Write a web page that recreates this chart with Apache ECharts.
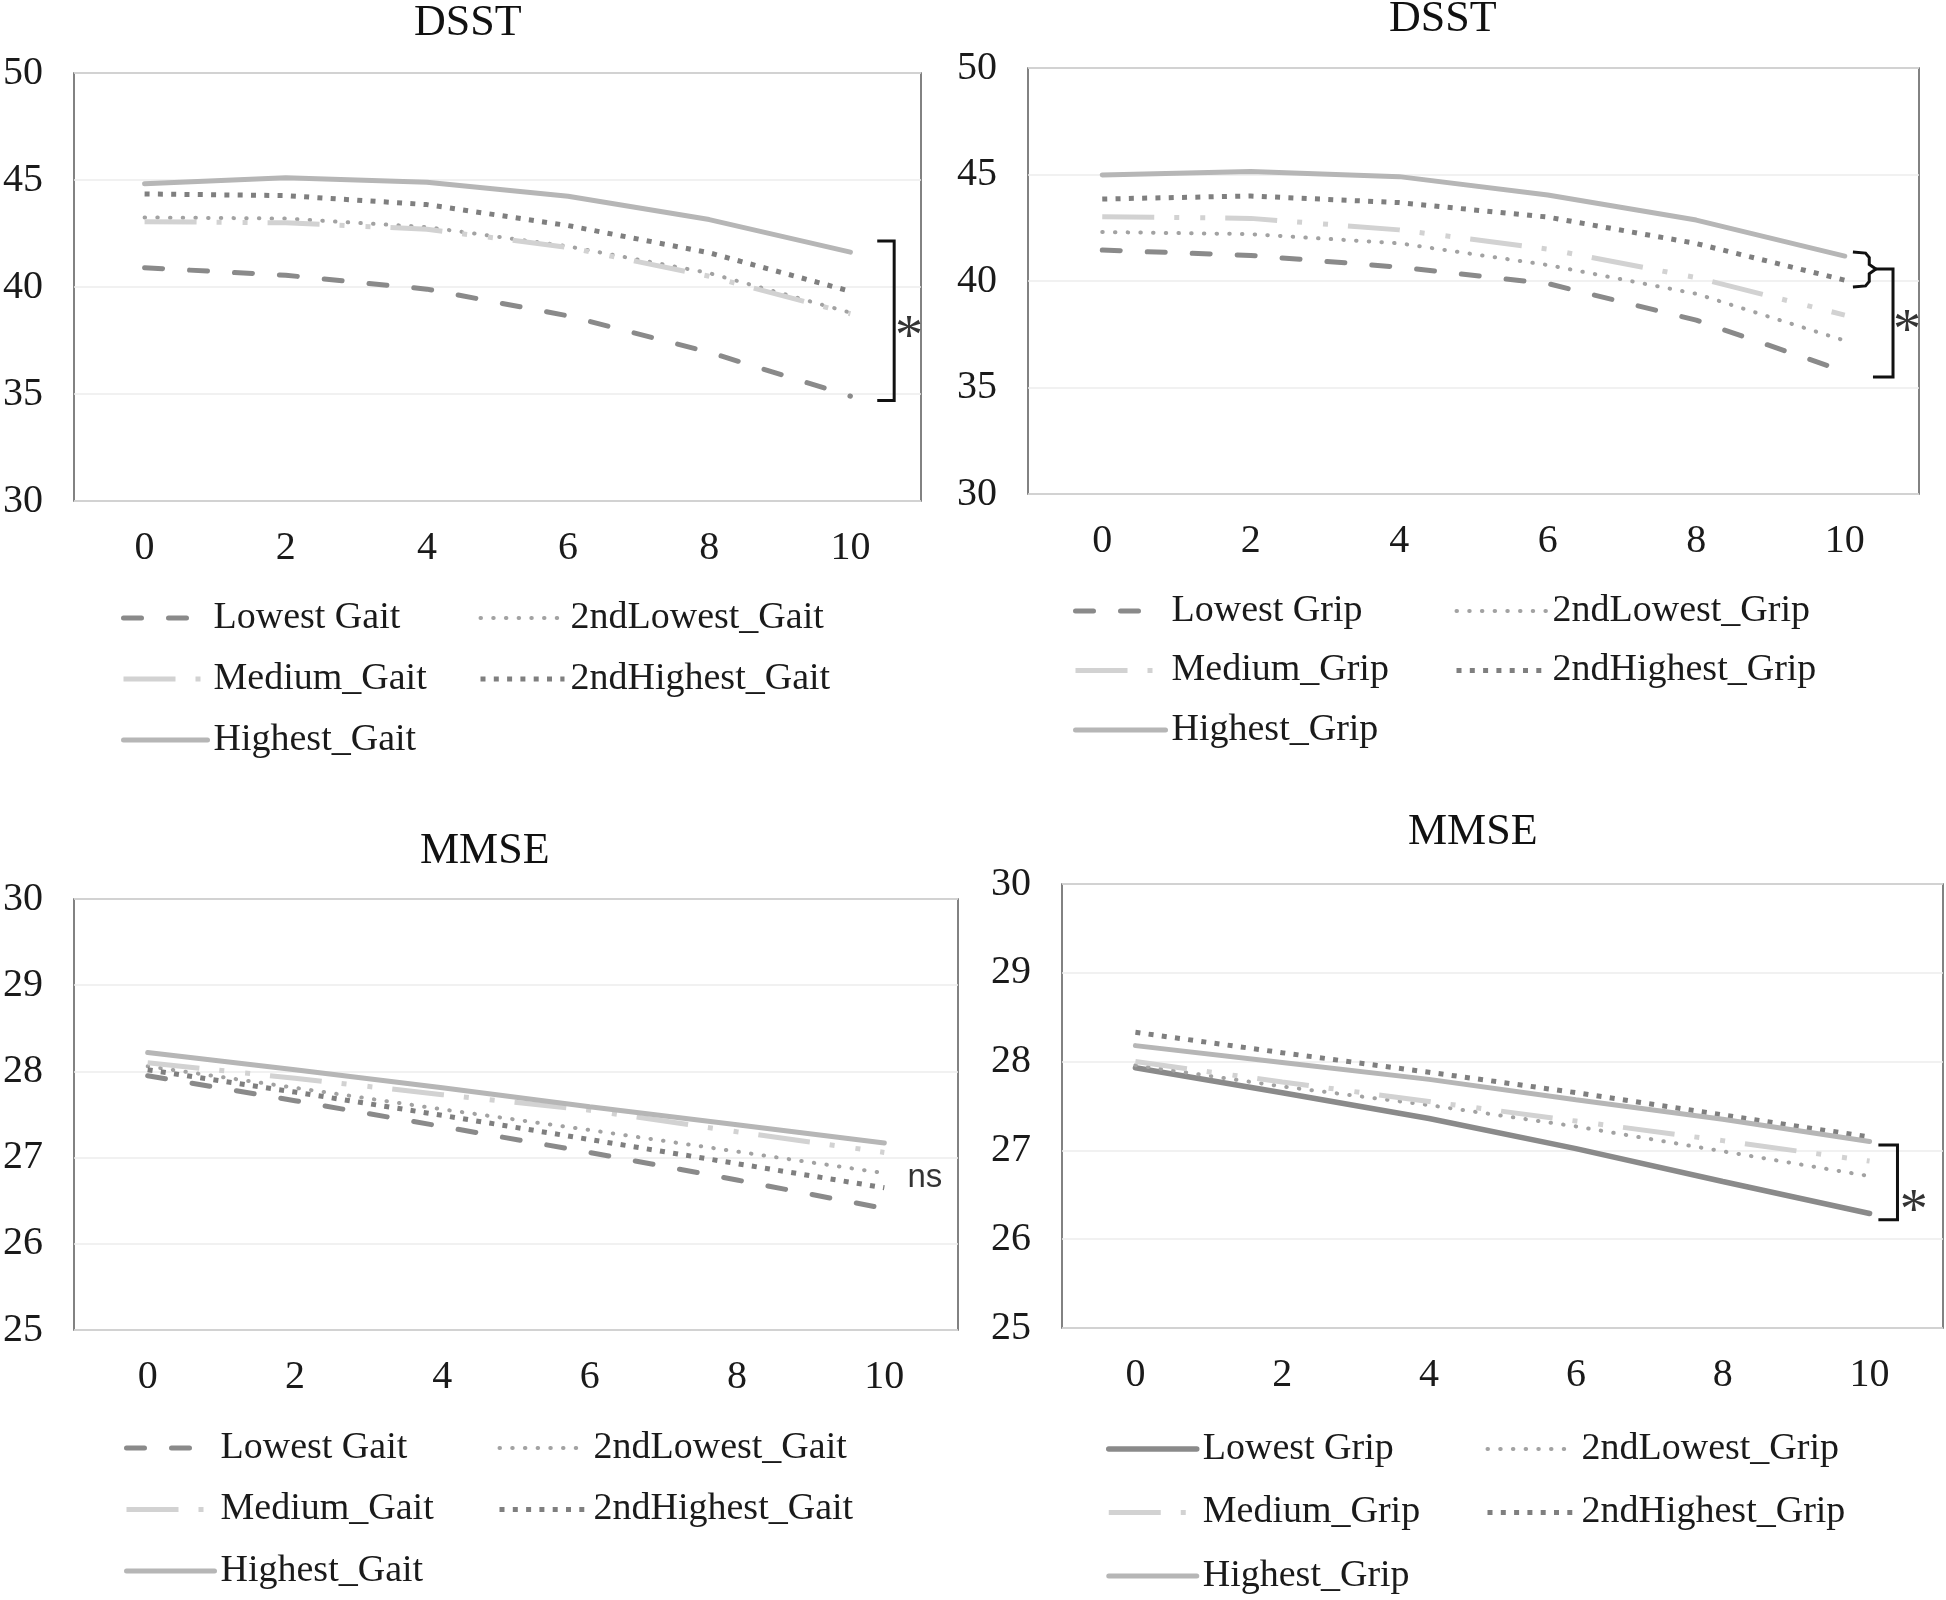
<!DOCTYPE html>
<html><head><meta charset="utf-8">
<script src="https://cdn.jsdelivr.net/npm/echarts@6/dist/echarts.min.js"></script>
<style>html,body{margin:0;padding:0;background:#fff}#c{width:1946px;height:1600px}</style>
</head><body><div id="c"></div>
<script>
// ---- data ----
const years = [0, 2, 4, 6, 8, 10];
const xTickLabels = ['0', '2', '4', '6', '8', '10'];
const panelTitles = ['DSST', 'DSST', 'MMSE', 'MMSE'];

const gaitNames = ['Lowest Gait', '2ndLowest_Gait', 'Medium_Gait', '2ndHighest_Gait', 'Highest_Gait'];
const gripNames = ['Lowest Grip', '2ndLowest_Grip', 'Medium_Grip', '2ndHighest_Grip', 'Highest_Grip'];

const dsstGaitLowest     = [40.90, 40.55, 39.90, 38.65, 36.95, 34.90];
const dsstGait2ndLowest  = [43.25, 43.20, 42.80, 41.90, 40.65, 38.80];
const dsstGaitMedium     = [43.05, 43.00, 42.70, 41.85, 40.50, 38.75];
const dsstGait2ndHighest = [44.35, 44.27, 43.85, 42.87, 41.60, 39.80];
const dsstGaitHighest    = [44.82, 45.10, 44.90, 44.24, 43.15, 41.63];

const dsstGripLowest     = [41.45, 41.20, 40.65, 39.88, 38.16, 35.75];
const dsstGrip2ndLowest  = [42.30, 42.20, 41.77, 40.75, 39.40, 37.20];
const dsstGripMedium     = [43.02, 42.94, 42.40, 41.50, 40.16, 38.40];
const dsstGrip2ndHighest = [43.85, 43.99, 43.68, 43.00, 41.76, 40.04];
const dsstGripHighest    = [44.98, 45.14, 44.90, 44.04, 42.86, 41.17];

const mmseGaitLowest     = [27.95, 27.66, 27.36, 27.06, 26.74, 26.41];
const mmseGait2ndLowest  = [28.06, 27.81, 27.56, 27.32, 27.07, 26.82];
const mmseGaitMedium     = [28.10, 27.92, 27.73, 27.55, 27.30, 27.06];
const mmseGait2ndHighest = [28.02, 27.76, 27.49, 27.21, 26.93, 26.65];
const mmseGaitHighest    = [28.22, 28.02, 27.81, 27.59, 27.38, 27.17];

const mmseGripLowest     = [27.93, 27.65, 27.36, 27.02, 26.65, 26.29];
const mmseGrip2ndLowest  = [27.96, 27.72, 27.51, 27.27, 26.99, 26.71];
const mmseGripMedium     = [28.00, 27.77, 27.55, 27.33, 27.11, 26.88];
const mmseGrip2ndHighest = [28.33, 28.10, 27.88, 27.65, 27.40, 27.15];
const mmseGripHighest    = [28.18, 27.99, 27.80, 27.57, 27.35, 27.10];

const dsstTicks = { min: 30, max: 50, interval: 5 };
const mmseTicks = { min: 25, max: 30, interval: 1 };

// significance annotations (data coordinates)
const bracketDsstGait = [[10.38, 42.15], [10.62, 42.15], [10.62, 34.7], [10.38, 34.7]];
const braceDsstGrip = [[10.11, 41.36], [10.28, 41.31], [10.33, 41.1], [10.33, 40.78], [10.42, 40.56], [10.33, 40.34], [10.33, 39.98], [10.28, 39.77], [10.11, 39.72]];
const bracketDsstGrip = [[10.42, 40.56], [10.65, 40.56], [10.65, 35.49], [10.38, 35.49]];
const bracketMmseGrip = [[10.12, 27.06], [10.38, 27.06], [10.38, 26.22], [10.12, 26.22]];
const starDsstGait = [10.83, 37.55];
const starDsstGrip = [10.84, 37.55];
const starMmseGrip = [10.6, 26.29];
const nsMmseGait = [10.55, 26.77];

// ---- styles / layout ----
const SERIF = 'Liberation Serif';
const st = {
  lowest:     { color: '#8a8a8a', width: 5,   type: [18, 27], cap: 'round' },
  second:     { color: '#a2a2a2', width: 4,   type: [0.5, 12.2], cap: 'round' },
  medium:     { color: '#d2d2d2', width: 5,   type: [52, 20, 5, 21, 5, 20], cap: 'butt' },
  secondHigh: { color: '#7f7f7f', width: 5,   type: [5, 8.3], cap: 'butt' },
  highest:    { color: '#b6b6b6', width: 5,   type: 'solid', cap: 'round' },
  lowestSolid:{ color: '#8a8a8a', width: 5.5, type: 'solid', cap: 'round' }
};

const grids = [
  { left: 72,   top: 73,  width: 849, height: 428 },
  { left: 1028, top: 68,  width: 891, height: 426 },
  { left: 74,   top: 899, width: 884, height: 431 },
  { left: 1062, top: 884, width: 881, height: 444 }
];
const titlePos = [[414, 1], [1389, -3], [420, 829], [1408, 810]];
const legendPos = [
  { c1: 121, c2: 478, top: 599, gap: 23, w: 84 },
  { c1: 1073, c2: 1454, top: 592, gap: 21.5, w: 90 },
  { c1: 124, c2: 497, top: 1429, gap: 23.5, w: 88 },
  { c1: 1106, c2: 1485, top: 1430, gap: 25.5, w: 88 }
];

const panels = [
  { names: gaitNames, ticks: dsstTicks, data: [dsstGaitLowest, dsstGait2ndLowest, dsstGaitMedium, dsstGait2ndHighest, dsstGaitHighest], styles: [st.lowest, st.second, st.medium, st.secondHigh, st.highest] },
  { names: gripNames, ticks: dsstTicks, data: [dsstGripLowest, dsstGrip2ndLowest, dsstGripMedium, dsstGrip2ndHighest, dsstGripHighest], styles: [st.lowest, st.second, st.medium, st.secondHigh, st.highest] },
  { names: gaitNames, ticks: mmseTicks, data: [mmseGaitLowest, mmseGait2ndLowest, mmseGaitMedium, mmseGait2ndHighest, mmseGaitHighest], styles: [st.lowest, st.second, st.medium, st.secondHigh, st.highest] },
  { names: gripNames, ticks: mmseTicks, data: [mmseGripLowest, mmseGrip2ndLowest, mmseGripMedium, mmseGrip2ndHighest, mmseGripHighest], styles: [st.lowestSolid, st.second, st.medium, st.secondHigh, st.highest] }
];

const option = { animation: false, backgroundColor: '#fff', grid: [], xAxis: [], yAxis: [], series: [], legend: [], title: [] };

panels.forEach((p, i) => {
  option.grid.push(Object.assign({ show: true, borderColor: '#5a5a5a', borderWidth: 1.5, backgroundColor: '#fff' }, grids[i]));
  option.xAxis.push({
    type: 'value', gridIndex: i, min: -1, max: 11, interval: 1,
    axisLine: { show: false }, axisTick: { show: false }, splitLine: { show: false },
    axisLabel: {
      margin: 27, fontFamily: SERIF, fontSize: 40, color: '#1a1a1a',
      formatter: v => { const k = years.indexOf(v); return k >= 0 ? xTickLabels[k] : ''; }
    }
  });
  option.yAxis.push({
    type: 'value', gridIndex: i, min: p.ticks.min, max: p.ticks.max, interval: p.ticks.interval,
    axisLine: { show: false }, axisTick: { show: false },
    splitLine: { show: true, lineStyle: { color: '#ececec', width: 1.5 } },
    axisLabel: { margin: 31, fontFamily: SERIF, fontSize: 40, color: '#1a1a1a' }
  });
  option.title.push({
    text: panelTitles[i], left: titlePos[i][0], top: titlePos[i][1], padding: 0,
    textStyle: { fontFamily: SERIF, fontSize: 44, fontWeight: 'normal', color: '#111' }
  });
  const ids = p.names.map(n => 'p' + i + '|' + n);
  p.names.forEach((n, k) => {
    const s = p.styles[k];
    option.series.push({
      type: 'line', name: ids[k], xAxisIndex: i, yAxisIndex: i,
      data: years.map((x, j) => [x, p.data[k][j]]),
      symbol: 'none', smooth: false, clip: false,
      lineStyle: { color: s.color, width: s.width, type: s.type, cap: s.cap },
      itemStyle: { color: s.color },
      z: 3 + k
    });
  });
  const lp = legendPos[i];
  const legBase = {
    orient: 'vertical', top: lp.top, padding: 0, itemGap: lp.gap,
    itemWidth: lp.w, itemHeight: 14, selectedMode: false,
    itemStyle: { color: 'rgba(0,0,0,0)', borderColor: 'rgba(0,0,0,0)', borderWidth: 0 },
    lineStyle: { width: 'inherit', type: 'inherit', color: 'inherit', cap: 'inherit' },
    formatter: name => name.split('|')[1],
    textStyle: { fontFamily: SERIF, fontSize: 38, color: '#1a1a1a', lineHeight: 38, padding: [0, 0, 0, 1] }
  };
  option.legend.push(Object.assign({}, legBase, { left: lp.c1, data: [ids[0], ids[2], ids[4]] }));
  option.legend.push(Object.assign({}, legBase, { left: lp.c2, data: [ids[1], ids[3]] }));
});

function bracket(idx, pts) {
  return { type: 'line', xAxisIndex: idx, yAxisIndex: idx, data: pts, symbol: 'none', clip: false, silent: true,
    lineStyle: { color: '#111', width: 3, type: 'solid', join: 'miter' }, z: 10 };
}
function mark(idx, pt, txt, font, size) {
  return { type: 'scatter', xAxisIndex: idx, yAxisIndex: idx, data: [pt], symbolSize: 1, clip: false, silent: true,
    itemStyle: { color: 'rgba(0,0,0,0)' },
    label: { show: true, position: 'inside', formatter: txt, fontFamily: font, fontSize: size, color: '#000' }, z: 10 };
}
option.series.push(bracket(0, bracketDsstGait));
option.series.push(bracket(1, braceDsstGrip));
option.series.push(bracket(1, bracketDsstGrip));
option.series.push(bracket(3, bracketMmseGrip));
option.series.push(mark(0, starDsstGait, '*', SERIF, 56));
option.series.push(mark(1, starDsstGrip, '*', SERIF, 56));
option.series.push(mark(3, starMmseGrip, '*', SERIF, 56));
option.series.push(mark(2, nsMmseGait, 'ns', 'Liberation Sans', 33));

const chart = echarts.init(document.getElementById('c'), null, { renderer: 'canvas' });
chart.setOption(option);
</script>
</body></html>
